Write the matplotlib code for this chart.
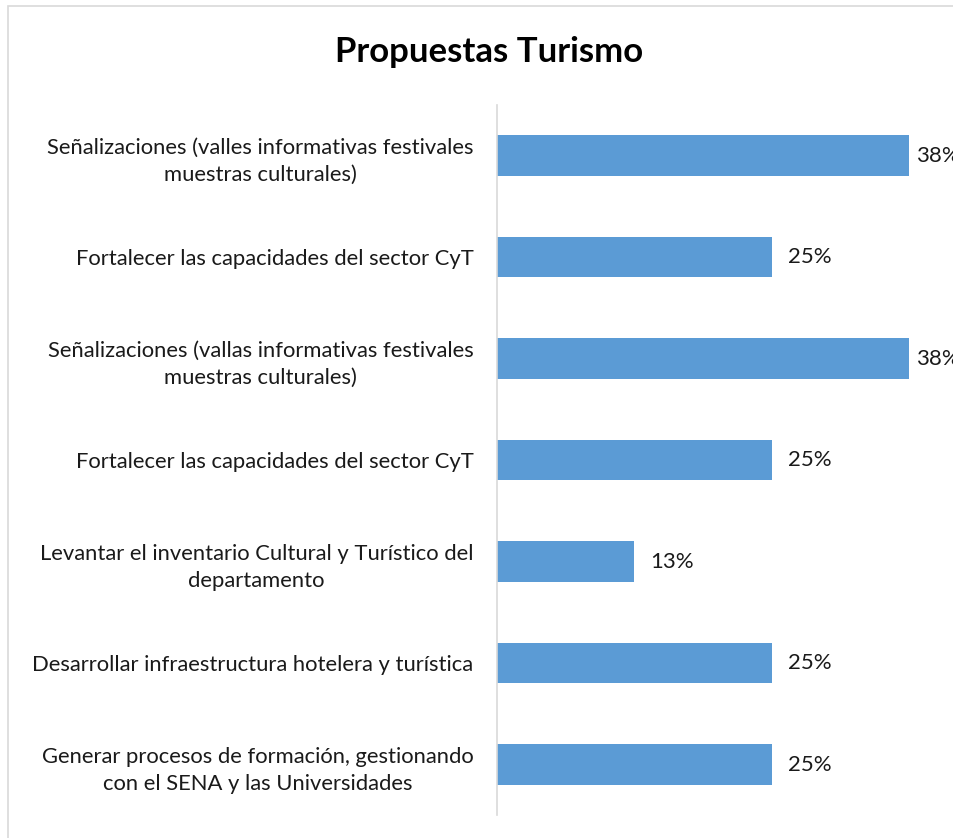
import matplotlib.pyplot as plt
from matplotlib.patches import Rectangle

# Categories top to bottom, as they appear in the chart.
categories = [
    "Señalizaciones (valles informativas festivales\nmuestras culturales)",
    "Fortalecer las capacidades del sector CyT",
    "Señalizaciones (vallas informativas festivales\nmuestras culturales)",
    "Fortalecer las capacidades del sector CyT",
    "Levantar el inventario Cultural y Turístico del\ndepartamento",
    "Desarrollar infraestructura hotelera y turística",
    "Generar procesos de formación, gestionando\ncon el SENA y las Universidades",
]
shares = [37.5, 25.0, 37.5, 25.0, 12.5, 25.0, 25.0]
value_labels = ["38%", "25%", "38%", "25%", "13%", "25%", "25%"]

BAR_COLOR = "#5B9BD5"
TEXT_COLOR = "#1a1a1a"
FONT = "Lato"


def main() -> None:
    fig = plt.figure(figsize=(9.54, 8.38), dpi=100)
    ax = fig.add_axes([0.521, 0.027, 0.461, 0.848])

    # Light grey chart border; right edge falls outside the picture.
    fig.patches.append(
        Rectangle(
            (8.5 / 954, -0.01), 1.1, 1.01 - 6.5 / 838,
            transform=fig.transFigure, fill=False,
            edgecolor="#D9D9D9", linewidth=1.2,
        )
    )

    y = list(range(len(categories)))
    ax.barh(y, shares, height=0.4, color=BAR_COLOR)
    ax.set_ylim(len(categories) - 0.5, -0.5)
    ax.set_xlim(0, 40)

    # Excel pulls labels closer to the bar when they'd run off the plot.
    for yi, val, lab in zip(y, shares, value_labels):
        offset = 5 if val > 35 else 11.5
        ax.annotate(
            lab, (val, yi), xytext=(offset, 0), textcoords="offset points",
            va="center", ha="left", fontsize=16, family=FONT,
            color=TEXT_COLOR, annotation_clip=False,
        )

    ax.set_yticks(y)
    ax.set_yticklabels(categories, fontsize=15.8, family=FONT, color=TEXT_COLOR)
    for t in ax.get_yticklabels():
        t.set_multialignment("center")
        t.set_linespacing(1.45)
    ax.tick_params(axis="y", length=0, pad=17)
    ax.set_xticks([])

    for side in ("top", "right", "bottom"):
        ax.spines[side].set_visible(False)
    ax.spines["left"].set_color("#D9D9D9")
    ax.spines["left"].set_linewidth(1.2)

    fig.text(
        0.513, 0.938, "Propuestas Turismo", ha="center", va="center",
        fontsize=25, fontweight="bold", family=FONT, color="black",
    )

    fig.savefig("out.png", dpi=100)


if __name__ == "__main__":
    main()
